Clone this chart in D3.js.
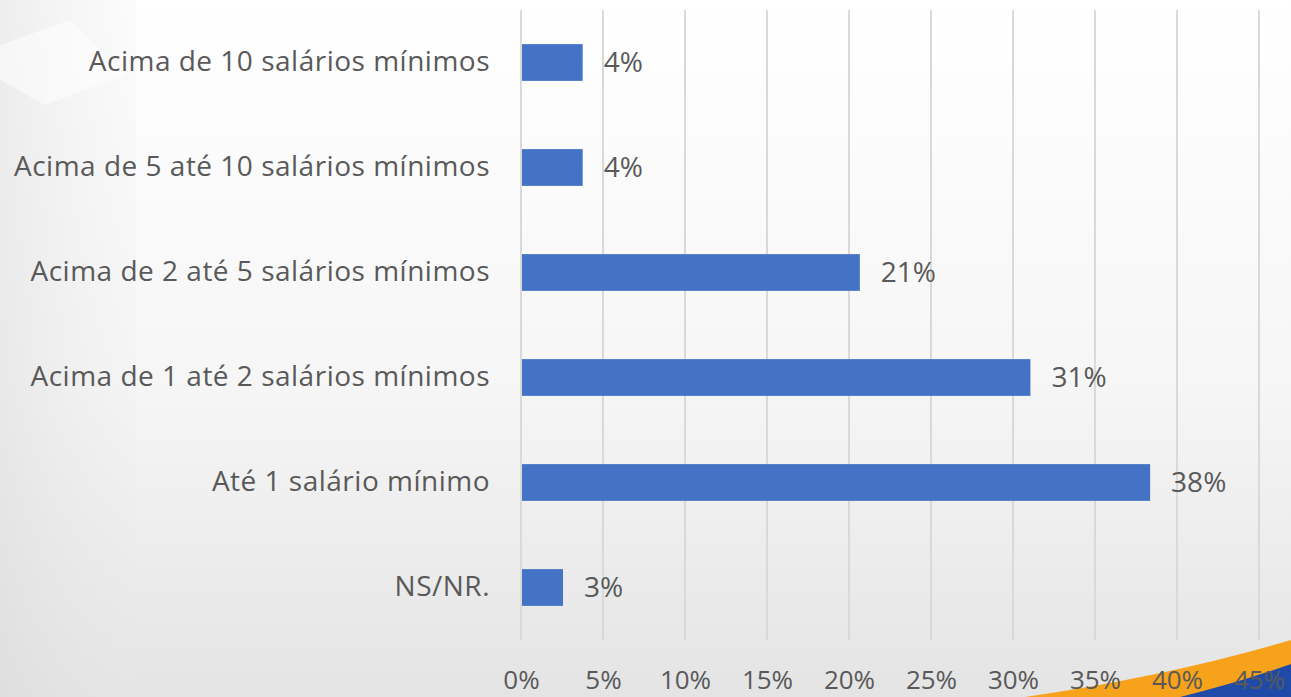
<!DOCTYPE html>
<html>
<head>
<meta charset="utf-8">
<script src="https://cdn.jsdelivr.net/npm/d3@7"></script>
<style>
  html, body { margin: 0; padding: 0; overflow: hidden; }
  svg { display: block; }
</style>
</head>
<body>
<div id="chart"></div>
<script>
// categories, top to bottom
var categories = [
  'Acima de 10 salários mínimos',
  'Acima de 5 até 10 salários mínimos',
  'Acima de 2 até 5 salários mínimos',
  'Acima de 1 até 2 salários mínimos',
  'Até 1 salário mínimo',
  'NS/NR.'
];
var values = [3.7, 3.7, 20.6, 31.0, 38.3, 2.5];
var valueLabels = ['4%', '4%', '21%', '31%', '38%', '3%'];
var tickValues = [0, 5, 10, 15, 20, 25, 30, 35, 40, 45];

var width = 1291, height = 697;
var margin = { top: 10, left: 521, right: 32, bottom: 57 };
var textColor = '#595959';
var font = '"Open Sans", Lato, sans-serif';

var svg = d3.select('#chart').append('svg')
  .attr('width', width)
  .attr('height', height);

// == background == //
var defs = svg.append('defs');
var bg = defs.append('linearGradient').attr('id', 'bg')
  .attr('x1', 0).attr('y1', 0).attr('x2', 0).attr('y2', 1);
bg.append('stop').attr('offset', '0%').attr('stop-color', '#ffffff');
bg.append('stop').attr('offset', '55%').attr('stop-color', '#f6f6f6');
bg.append('stop').attr('offset', '100%').attr('stop-color', '#e4e4e4');
var side = defs.append('linearGradient').attr('id', 'side')
  .attr('x1', 0).attr('y1', 0).attr('x2', 1).attr('y2', 0);
side.append('stop').attr('offset', '0%').attr('stop-color', '#d8d8d8').attr('stop-opacity', 0.45);
side.append('stop').attr('offset', '100%').attr('stop-color', '#e8e8e8').attr('stop-opacity', 0.15);

svg.append('rect').attr('width', width).attr('height', height).attr('fill', 'url(#bg)');
svg.append('rect').attr('x', 0).attr('y', 0).attr('width', 136).attr('height', height)
  .attr('fill', 'url(#side)');
svg.append('path')
  .attr('d', 'M0,45 L70,20 L125,75 L45,105 L0,80 Z')
  .attr('fill', '#ffffff').attr('opacity', 0.5);

// swoosh at the bottom right
svg.append('path')
  .attr('d', 'M1025,697 Q1170,676 1291,640 L1291,697 Z')
  .attr('fill', '#f7a21b');
svg.append('path')
  .attr('d', 'M1180,697 Q1240,682 1291,664 L1291,697 Z')
  .attr('fill', '#1f4aa8');

// == scales == //
var x = d3.scaleLinear()
  .domain([0, 45])
  .range([margin.left, width - margin.right]);
var y = d3.scaleBand()
  .domain(categories)
  .range([margin.top, height - margin.bottom])
  .paddingInner(0.65)
  .paddingOuter(0.325);

// gridlines
svg.append('g')
  .selectAll('line')
  .data(tickValues)
  .enter()
  .append('line')
  .attr('x1', function (d) { return x(d); })
  .attr('x2', function (d) { return x(d); })
  .attr('y1', margin.top)
  .attr('y2', height - margin.bottom)
  .attr('stroke', '#d9d9d9')
  .attr('stroke-width', 2);

// bars
svg.append('g')
  .selectAll('rect')
  .data(values)
  .enter()
  .append('rect')
  .attr('x', x(0) + 1)
  .attr('y', function (d, i) { return y(categories[i]); })
  .attr('width', function (d) { return x(d) - x(0); })
  .attr('height', y.bandwidth())
  .attr('fill', '#4472c4');

// value labels
svg.append('g')
  .selectAll('text')
  .data(values)
  .enter()
  .append('text')
  .attr('x', function (d) { return x(d) + 22; })
  .attr('y', function (d, i) { return y(categories[i]) + y.bandwidth() / 2; })
  .attr('dy', '0.35em')
  .attr('fill', textColor)
  .style('font-family', font)
  .style('font-size', '28px')
  .text(function (d, i) { return valueLabels[i]; });

// category axis
var yAxis = svg.append('g')
  .attr('transform', 'translate(' + (margin.left - 31) + ',0)')
  .call(d3.axisLeft(y).tickSize(0).tickPadding(0));
yAxis.select('.domain').remove();
yAxis.selectAll('text')
  .attr('fill', textColor)
  .style('font-family', font)
  .style('font-size', '28px')
  .style('letter-spacing', '0.5px');

// value axis
var xAxis = svg.append('g')
  .attr('transform', 'translate(0,' + (height - margin.bottom) + ')')
  .call(d3.axisBottom(x).tickValues(tickValues).tickSize(0)
    .tickFormat(function (d) { return d + '%'; }));
xAxis.select('.domain').remove();
xAxis.selectAll('text')
  .attr('y', 49)
  .attr('dy', 0)
  .attr('fill', textColor)
  .style('font-family', font)
  .style('font-size', '26px');
</script>
</body>
</html>
